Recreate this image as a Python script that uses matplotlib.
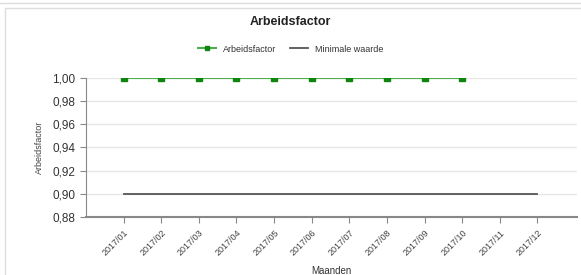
import matplotlib.pyplot as plt
from matplotlib.patches import Rectangle
from matplotlib.lines import Line2D
from matplotlib.ticker import FuncFormatter

plt.rcParams['font.family'] = ['Liberation Sans', 'DejaVu Sans']

months = ["2017/01", "2017/02", "2017/03", "2017/04", "2017/05", "2017/06",
          "2017/07", "2017/08", "2017/09", "2017/10", "2017/11", "2017/12"]
arbeidsfactor = [1.00, 1.00, 1.00, 1.00, 1.00, 1.00, 1.00, 1.00, 1.00, 1.00]
minimale_waarde = [0.90] * 12
y_ticks = [0.88, 0.90, 0.92, 0.94, 0.96, 0.98, 1.00]

fig = plt.figure(figsize=(5.81, 2.75), dpi=100)
fig.patch.set_facecolor("white")

# panel frame like the dashboard widget
fig.add_artist(Line2D([0, 1], [1 - 3 / 275, 1 - 3 / 275], color="#dddddd", lw=1))
fig.add_artist(Rectangle((5 / 581, -0.01), 1, 1 - 8 / 275 + 0.01, fill=False,
                         edgecolor="#dddddd", lw=1))

ax = fig.add_axes([86 / 581, 1 - 217 / 275, (577 - 86) / 581, (217 - 78) / 275])
x = list(range(len(months)))

ax.plot(x, minimale_waarde, color="#555555", lw=1.3, zorder=3, label="Minimale waarde")
ax.plot(x[:len(arbeidsfactor)], arbeidsfactor, color="#4caf4c", lw=1.5,
        marker="s", markersize=4, markerfacecolor="#0f850f",
        markeredgecolor="#0f850f", zorder=4, label="Arbeidsfactor")

ax.set_xlim(-1, 12.05)
ax.set_ylim(0.88, 1.0)
ax.set_yticks(y_ticks)
ax.yaxis.set_major_formatter(FuncFormatter(lambda v, p: f"{v:.2f}".replace(".", ",")))
ax.set_xticks(x)
ax.set_xticklabels(months, rotation=45, ha="right", rotation_mode="anchor",
                   fontsize=6.5)
ax.tick_params(axis="y", labelsize=8.5, colors="#888888", labelcolor="#333333",
               length=4, width=0.8)
ax.tick_params(axis="x", colors="#888888", labelcolor="#444444", length=4,
               width=0.8, pad=4)

ax.grid(axis="y", color="#e6e6e6", lw=1)
ax.set_axisbelow(True)
for s in ("top", "right"):
    ax.spines[s].set_visible(False)
ax.spines["left"].set_color("#888888")
ax.spines["bottom"].set_color("#888888")
ax.spines["bottom"].set_linewidth(1.5)

ax.set_ylabel("Arbeidsfactor", fontsize=6.5, color="#444444", labelpad=6)
ax.set_xlabel("Maanden", fontsize=7, color="#333333", labelpad=6)

handles, labels = ax.get_legend_handles_labels()
fig.legend(handles[::-1], labels[::-1], loc="center", bbox_to_anchor=(0.5, 1 - 49 / 275),
           ncol=2, frameon=False, fontsize=6.5, handlelength=2, columnspacing=1.5,
           labelcolor="#333333", markerscale=0.7)
fig.text(0.5, 1 - 22 / 275, "Arbeidsfactor", ha="center", va="center",
         fontsize=9, fontweight="bold", color="#222222")

fig.savefig("out.png", dpi=100)
